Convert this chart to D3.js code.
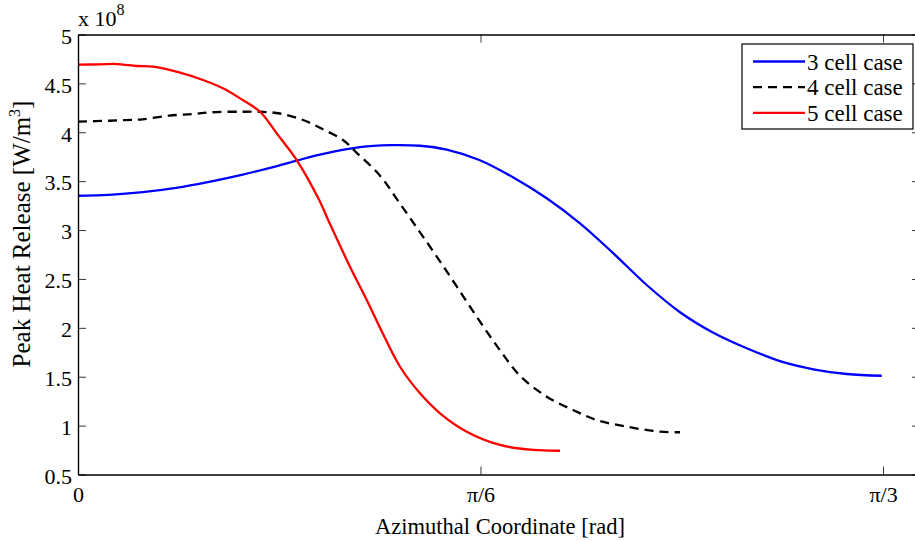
<!DOCTYPE html>
<html>
<head>
<meta charset="utf-8">
<script src="https://cdn.jsdelivr.net/npm/d3@7/dist/d3.min.js"></script>
<style>
  body { margin: 0; background: #fff; }
  svg { display: block; overflow: hidden; }
  text { font-family: "Liberation Serif", "Times New Roman", serif; fill: #000; }
</style>
</head>
<body>
<svg id="chart" width="915" height="541"></svg>
<script>
// ---------- data ----------
const seriesNames = ["3 cell case", "4 cell case", "5 cell case"];
const seriesColors = ["#0000ff", "#000000", "#ff0000"];

const cell3X = [0, 0.0403, 0.0842, 0.1275, 0.1705, 0.2143, 0.2576, 0.2845, 0.3148, 0.3669, 0.4059, 0.4449, 0.4796, 0.5221, 0.5663, 0.6097, 0.6530, 0.6964, 0.7398, 0.7831, 0.8265, 0.8699, 0.9132, 0.9566, 1.0000, 1.0455];
const cell3Y = [3.351, 3.360, 3.388, 3.432, 3.494, 3.568, 3.652, 3.710, 3.772, 3.848, 3.868, 3.862, 3.822, 3.716, 3.537, 3.325, 3.069, 2.762, 2.438, 2.160, 1.950, 1.791, 1.660, 1.576, 1.528, 1.510];

const cell4X = [0, 0.0403, 0.0624, 0.0842, 0.1184, 0.1492, 0.1795, 0.2143, 0.2368, 0.2628, 0.2927, 0.3187, 0.3447, 0.3626, 0.3929, 0.4189, 0.4449, 0.4709, 0.4969, 0.5230, 0.5490, 0.5750, 0.6097, 0.6439, 0.6748, 0.7138, 0.7571, 0.7831];
const cell4Y = [4.108, 4.118, 4.125, 4.133, 4.170, 4.187, 4.207, 4.210, 4.210, 4.192, 4.126, 4.030, 3.921, 3.790, 3.556, 3.270, 2.977, 2.680, 2.373, 2.063, 1.770, 1.510, 1.296, 1.160, 1.057, 0.989, 0.938, 0.932];

const cell5X = [0, 0.0286, 0.0507, 0.0768, 0.0976, 0.1327, 0.1626, 0.1886, 0.2108, 0.2368, 0.2585, 0.2845, 0.3126, 0.3278, 0.3538, 0.3756, 0.3968, 0.4189, 0.4449, 0.4709, 0.5057, 0.5490, 0.5923, 0.6270];
const cell5Y = [4.691, 4.695, 4.698, 4.678, 4.671, 4.609, 4.535, 4.450, 4.347, 4.210, 3.989, 3.716, 3.325, 3.062, 2.625, 2.285, 1.937, 1.602, 1.330, 1.126, 0.938, 0.802, 0.751, 0.743];

const xTickValues = [0, Math.PI / 6, Math.PI / 3];
const xTickLabels = ["0", "π/6", "π/3"];
const yTickValues = [0.5, 1, 1.5, 2, 2.5, 3, 3.5, 4, 4.5, 5];
const yTickLabels = ["0.5", "1", "1.5", "2", "2.5", "3", "3.5", "4", "4.5", "5"];

// ---------- layout ----------
const svg = d3.select("#chart");
const L = 78, R = 920, T = 34.5, B = 474.5;
const x = d3.scaleLinear().domain([0, 1.0953]).range([L, R]);
const y = d3.scaleLinear().domain([0.5, 5]).range([B, T]);

const series = [
  { name: seriesNames[0], color: seriesColors[0], dash: null, xs: cell3X, ys: cell3Y },
  { name: seriesNames[1], color: seriesColors[1], dash: "9,6", xs: cell4X, ys: cell4Y },
  { name: seriesNames[2], color: seriesColors[2], dash: null, xs: cell5X, ys: cell5Y }
];

svg.append("defs").append("clipPath").attr("id", "clip")
  .append("rect").attr("x", L).attr("y", T).attr("width", R - L).attr("height", B - T);

// curves
const line = d3.line().x(d => x(d[0])).y(d => y(d[1])).curve(d3.curveCatmullRom.alpha(0.5));
const plot = svg.append("g").attr("clip-path", "url(#clip)");
series.forEach(s => {
  const pts = s.xs.map((v, i) => [v, s.ys[i]]);
  plot.append("path")
    .attr("d", line(pts))
    .attr("fill", "none")
    .attr("stroke", s.color)
    .attr("stroke-width", 2.3)
    .attr("stroke-dasharray", s.dash)
    .attr("stroke-linejoin", "round");
});

// axes (box with inward ticks)
const tickLen = 8;
const fmtX = (d, i) => xTickLabels[i];
const fmtY = (d, i) => yTickLabels[i];

const axBottom = svg.append("g").attr("transform", `translate(0,${B})`)
  .call(d3.axisBottom(x).tickValues(xTickValues).tickFormat(fmtX).tickSizeInner(-tickLen).tickSizeOuter(0).tickPadding(tickLen + 7));
const axTop = svg.append("g").attr("transform", `translate(0,${T})`)
  .call(d3.axisTop(x).tickValues(xTickValues).tickFormat("").tickSizeInner(-tickLen).tickSizeOuter(0));
const axLeft = svg.append("g").attr("transform", `translate(${L},0)`)
  .call(d3.axisLeft(y).tickValues(yTickValues).tickFormat(fmtY).tickSizeInner(-tickLen).tickSizeOuter(0).tickPadding(6));
const axRight = svg.append("g").attr("transform", `translate(${R},0)`)
  .call(d3.axisRight(y).tickValues(yTickValues).tickFormat("").tickSizeInner(-tickLen).tickSizeOuter(0));

[axBottom, axTop, axLeft, axRight].forEach(a => {
  a.attr("font-family", "Liberation Serif");
  a.select(".domain").attr("stroke", "#000").attr("stroke-width", 1.4);
  a.selectAll(".tick line").attr("stroke", "#000").attr("stroke-width", 0.8);
  a.selectAll("text").attr("font-family", "Liberation Serif").attr("font-size", 22).attr("fill", "#000");
});
axBottom.selectAll(".tick text").attr("dy", "0.55em");
axLeft.selectAll(".tick text").attr("dy", "0.4em");

// exponent label
const expo = svg.append("text").attr("x", 78).attr("y", 26).attr("font-size", 22);
expo.append("tspan").text("x 10");
expo.append("tspan").attr("dy", -11).attr("font-size", 16).text("8");

// axis labels
svg.append("text")
  .attr("x", 500).attr("y", 534)
  .attr("text-anchor", "middle").attr("font-size", 22.5)
  .text("Azimuthal Coordinate [rad]");

const yl = svg.append("text")
  .attr("transform", "translate(30,234) rotate(-90)")
  .attr("text-anchor", "middle").attr("font-size", 25);
yl.append("tspan").text("Peak Heat Release [W/m");
yl.append("tspan").attr("dy", -10).attr("font-size", 16).text("3");
yl.append("tspan").attr("dy", 10).text("]");

// legend
const lg = svg.append("g");
lg.append("rect").attr("x", 742).attr("y", 44).attr("width", 171).attr("height", 85)
  .attr("fill", "#fff").attr("stroke", "#000").attr("stroke-width", 1.2);
series.forEach((s, i) => {
  const yy = 61.5 + i * 25.7;
  lg.append("line").attr("x1", 753).attr("x2", 805).attr("y1", yy).attr("y2", yy)
    .attr("stroke", s.color).attr("stroke-width", 2.3).attr("stroke-dasharray", s.dash);
  lg.append("text").attr("x", 807).attr("y", yy).attr("dy", "0.35em")
    .attr("font-size", 23).text(s.name);
});
</script>
</body>
</html>
